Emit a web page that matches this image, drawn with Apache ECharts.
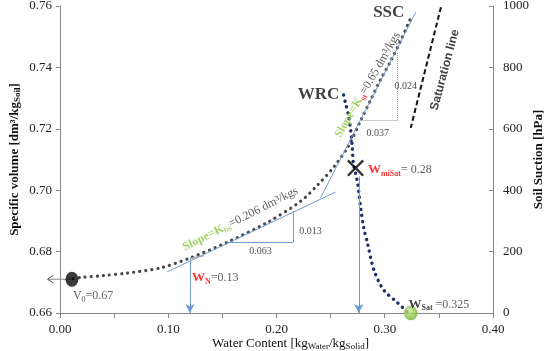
<!DOCTYPE html>
<html>
<head>
<meta charset="utf-8">
<script src="https://cdn.jsdelivr.net/npm/echarts@6/dist/echarts.min.js"></script>
<style>
  html, body { margin: 0; padding: 0; background: #fff; }
  #main { width: 546px; height: 351px; }
</style>
</head>
<body>
<div id="main"></div>
<script>
// shrinkage curve (specific volume vs water content)
var sscWater  = [0.012, 0.020, 0.040, 0.062, 0.093, 0.120, 0.155, 0.192, 0.222, 0.238, 0.253, 0.266, 0.278, 0.287, 0.296, 0.306, 0.315, 0.324];
var sscVolume = [0.6712, 0.6716, 0.6722, 0.6730, 0.6747, 0.6779, 0.6831, 0.6896, 0.6963, 0.7017, 0.7076, 0.7141, 0.7229, 0.7294, 0.7359, 0.7424, 0.7489, 0.7561];
// water retention curve (suction vs water content)
var wrcWater   = [0.262, 0.264, 0.266, 0.2685, 0.270, 0.271, 0.273, 0.275, 0.276, 0.278, 0.2806, 0.284, 0.290, 0.299, 0.312, 0.322];
var wrcSuction = [710, 680, 651, 596, 541, 489, 456, 423, 394, 336, 277, 228, 140, 75, 33, 0];

var xTicks = [0, 0.4, 0.1];
var volTicks = [0.66, 0.76, 0.02];
var suctionTicks = [0, 1000, 200];

var v0Point = [0.011, 0.671];
var wMiSatPoint = [0.273, 0.7072];
var wSatPoint = [0.324, 0];

var serif = 'Liberation Serif';
var dom = document.getElementById('main');
var myChart = echarts.init(dom);

function pairs(xs, ys) {
    return xs.map(function (x, i) { return [x, ys[i]]; });
}

function seg(a, b, style, endSymbol) {
    return [
        {coord: a, symbol: 'none', lineStyle: style},
        {coord: b, symbol: endSymbol || 'none'}
    ];
}

var blue = {color: '#6f9ad3', width: 1, type: 'solid'};
var grayDot = {color: '#999', width: 1, type: 'dotted'};

var rich = {
    g: {fontFamily: serif, fontSize: 12, color: '#8cc63f', fontWeight: 'bold'},
    gs: {fontFamily: serif, fontSize: 8, color: '#8cc63f', fontWeight: 'bold', padding: [7, 0, 0, 0]},
    rs: {fontFamily: serif, fontSize: 8, color: '#ff0000', fontWeight: 'bold', padding: [7, 0, 0, 0]},
    r: {fontFamily: serif, fontSize: 13, color: '#ff0000', fontWeight: 'bold'},
    t: {fontFamily: serif, fontSize: 12, color: '#333'},
    s: {fontFamily: serif, fontSize: 8, color: '#222', padding: [7, 0, 0, 0]},
    b: {fontFamily: serif, fontSize: 13, color: '#111', fontWeight: 'bold'},
    bs: {fontFamily: serif, fontSize: 8, color: '#111', fontWeight: 'bold', padding: [7, 0, 0, 0]},
    n: {fontFamily: serif, fontSize: 10, color: '#222'},
    big: {fontFamily: serif, fontSize: 17, color: '#111', fontWeight: 'bold'},
    sat: {fontFamily: 'Liberation Sans', fontSize: 12, color: '#111', fontWeight: 'bold'}
};

var notes = [
    {at: [0.3037, 0.7577], text: '{big|SSC}'},
    {at: [0.2389, 0.7310], text: '{big|WRC}'},
    {at: [0.3556, 0.7392], text: '{sat|Saturation line}', rotate: 75},
    {at: [0.2843, 0.7343], text: '{g|Slope=K}{rs|st}{t|=0.65 dm³/kgs}', rotate: 60},
    {at: [0.1667, 0.6906], text: '{g|Slope=K}{gs|bs}{t|=0.206 dm³/kgs}', rotate: 27},
    {at: [0.0306, 0.6655], text: '{t|V}{s|0}{t|=0.67}'},
    {at: [0.1435, 0.6714], text: '{r|W}{rs|N}{t|=0.13}'},
    {at: [0.3139, 0.7066], text: '{r|W}{rs|miSat}{t|= 0.28}'},
    {at: [0.3500, 0.6627], text: '{b|W}{bs|Sat}{t| =0.325}'},
    {at: [0.1852, 0.6802], text: '{n|0.063}'},
    {at: [0.2315, 0.6867], text: '{n|0.013}'},
    {at: [0.3194, 0.7339], text: '{n|0.024}'},
    {at: [0.2935, 0.7186], text: '{n|0.037}'}
];

// open arrow pointing left from the V0 dot, reaching outside the plot area
var v0ArrowTip = [-0.0115, 0.6710];

var option = {
    animation: false,
    grid: {left: 60, right: 53, top: 6, bottom: 38, containLabel: false, outerBoundsMode: 'none'},
    xAxis: {
        type: 'value',
        min: xTicks[0], max: xTicks[1], interval: xTicks[2],
        name: 'Water Content [kg{s|Water}/kg{s|Solid}]',
        nameLocation: 'middle', nameGap: 23, nameMoveOverlap: false,
        nameTextStyle: {fontFamily: serif, fontSize: 13, color: '#111', padding: [0, 0, 0, 28],
            rich: {s: {fontFamily: serif, fontSize: 9, color: '#111', padding: [6, 0, 0, 0]}}},
        axisLine: {lineStyle: {color: '#888'}},
        axisTick: {length: 5, lineStyle: {color: '#888'}},
        minorTick: {show: true, splitNumber: 2, length: 5, lineStyle: {color: '#888'}},
        splitLine: {show: false},
        axisLabel: {fontFamily: serif, fontSize: 13, color: '#222', margin: 10,
            formatter: function (v) { return v.toFixed(2); }}
    },
    yAxis: [{
        type: 'value',
        min: volTicks[0], max: volTicks[1], interval: volTicks[2],
        name: 'Specific volume [dm³/kg{s|Soil}]',
        nameLocation: 'middle', nameGap: 38, nameRotate: 90, nameMoveOverlap: false,
        nameTextStyle: {fontFamily: serif, fontSize: 13, color: '#111', fontWeight: 'bold',
            rich: {s: {fontFamily: serif, fontSize: 9, color: '#111', fontWeight: 'bold', padding: [6, 0, 0, 0]}}},
        axisLine: {show: true, lineStyle: {color: '#888'}},
        axisTick: {show: true, length: 4, lineStyle: {color: '#888'}},
        splitLine: {show: false},
        axisLabel: {fontFamily: serif, fontSize: 13, color: '#222', margin: 8,
            formatter: function (v) { return v.toFixed(2); }}
    }, {
        type: 'value',
        position: 'right',
        min: suctionTicks[0], max: suctionTicks[1], interval: suctionTicks[2],
        name: 'Soil Suction [hPa]',
        nameLocation: 'middle', nameGap: 39, nameRotate: 90, nameMoveOverlap: false,
        nameTextStyle: {fontFamily: serif, fontSize: 13, color: '#111', fontWeight: 'bold'},
        axisLine: {show: true, lineStyle: {color: '#888'}},
        axisTick: {show: true, inside: true, length: 4, lineStyle: {color: '#888'}},
        splitLine: {show: false},
        axisLabel: {fontFamily: serif, fontSize: 13, color: '#222', margin: 10,
            formatter: function (v) { return String(v); }}
    }],
    series: [{
        name: 'SSC',
        type: 'line',
        smooth: 0.3,
        symbol: 'none',
        data: pairs(sscWater, sscVolume),
        lineStyle: {color: '#4a4a4a', width: 3.2, type: [0.1, 6], cap: 'round'},
        z: 3
    }, {
        name: 'WRC',
        type: 'line',
        yAxisIndex: 1,
        smooth: 0.3,
        symbol: 'none',
        data: pairs(wrcWater, wrcSuction),
        lineStyle: {color: '#1b2f6e', width: 3.4, type: [0.1, 6], cap: 'round'},
        z: 3
    }, {
        name: 'marks',
        type: 'scatter',
        data: [
            {value: v0Point, symbol: 'circle', symbolSize: [13, 15], itemStyle: {color: '#0a0a0a'}},
            {value: wMiSatPoint, symbol: 'path://M0,2L2,0L10,8L18,0L20,2L12,10L20,18L18,20L10,12L2,20L0,18L8,10Z',
                symbolSize: 17, itemStyle: {color: '#000'}}
        ],
        markLine: {
            silent: true,
            animation: false,
            label: {show: false},
            symbolSize: [7, 9],
            data: [
                seg([0.099, 0.6734], [0.2546, 0.6994], blue),
                seg([0.2407, 0.6975], [0.3287, 0.7580], blue),
                seg([0.1546, 0.6831], [0.2157, 0.6831], blue),
                seg([0.2157, 0.6831], [0.2157, 0.6932], blue),
                seg([0.2796, 0.7229], [0.3120, 0.7229], grayDot),
                seg([0.3120, 0.7229], [0.3120, 0.7450], grayDot),
                seg([0.120, 0.6779], [0.120, 0.6600], blue, 'arrow'),
                seg([0.276, 0.7045], [0.276, 0.6600], blue, 'arrow'),
                seg([0.120, 0.6779], [0.133, 0.6786], {color: '#999', width: 1, type: 'solid'}),
                seg([0.3519, 0.7596], [0.3240, 0.7203], {color: '#111', width: 2, type: [5, 3]})
            ]
        },
        z: 5
    }, {
        name: 'sat',
        type: 'scatter',
        yAxisIndex: 1,
        data: [wSatPoint],
        symbolSize: [13, 14],
        itemStyle: {
            color: new echarts.graphic.RadialGradient(0.4, 0.35, 0.7, [
                {offset: 0, color: '#c8ec8a'},
                {offset: 1, color: '#6fae2a'}
            ]),
            borderColor: '#5f9a25', borderWidth: 0.5
        },
        z: 6
    }, {
        name: 'notes',
        type: 'scatter',
        symbolSize: 0,
        silent: true,
        data: notes.map(function (n) {
            return {
                value: n.at,
                label: {show: true, position: 'inside', formatter: n.text, rotate: n.rotate || 0, rich: rich}
            };
        }),
        z: 7
    }]
};

if (option && typeof option === "object") {
    myChart.setOption(option, true);
    // arrow from the V0 dot to the left, placed through the axis scales
    var from = myChart.convertToPixel({gridIndex: 0}, v0Point);
    var tip = myChart.convertToPixel({gridIndex: 0}, v0ArrowTip);
    myChart.setOption({
        graphic: [{
            type: 'polyline', z: 4, silent: true,
            shape: {points: [from, tip]},
            style: {stroke: '#888', lineWidth: 1, fill: null}
        }, {
            type: 'polyline', z: 4, silent: true,
            shape: {points: [[tip[0] + 6, tip[1] - 4], tip, [tip[0] + 6, tip[1] + 4]]},
            style: {stroke: '#555', lineWidth: 1, fill: null}
        }]
    });
}
</script>
</body>
</html>
